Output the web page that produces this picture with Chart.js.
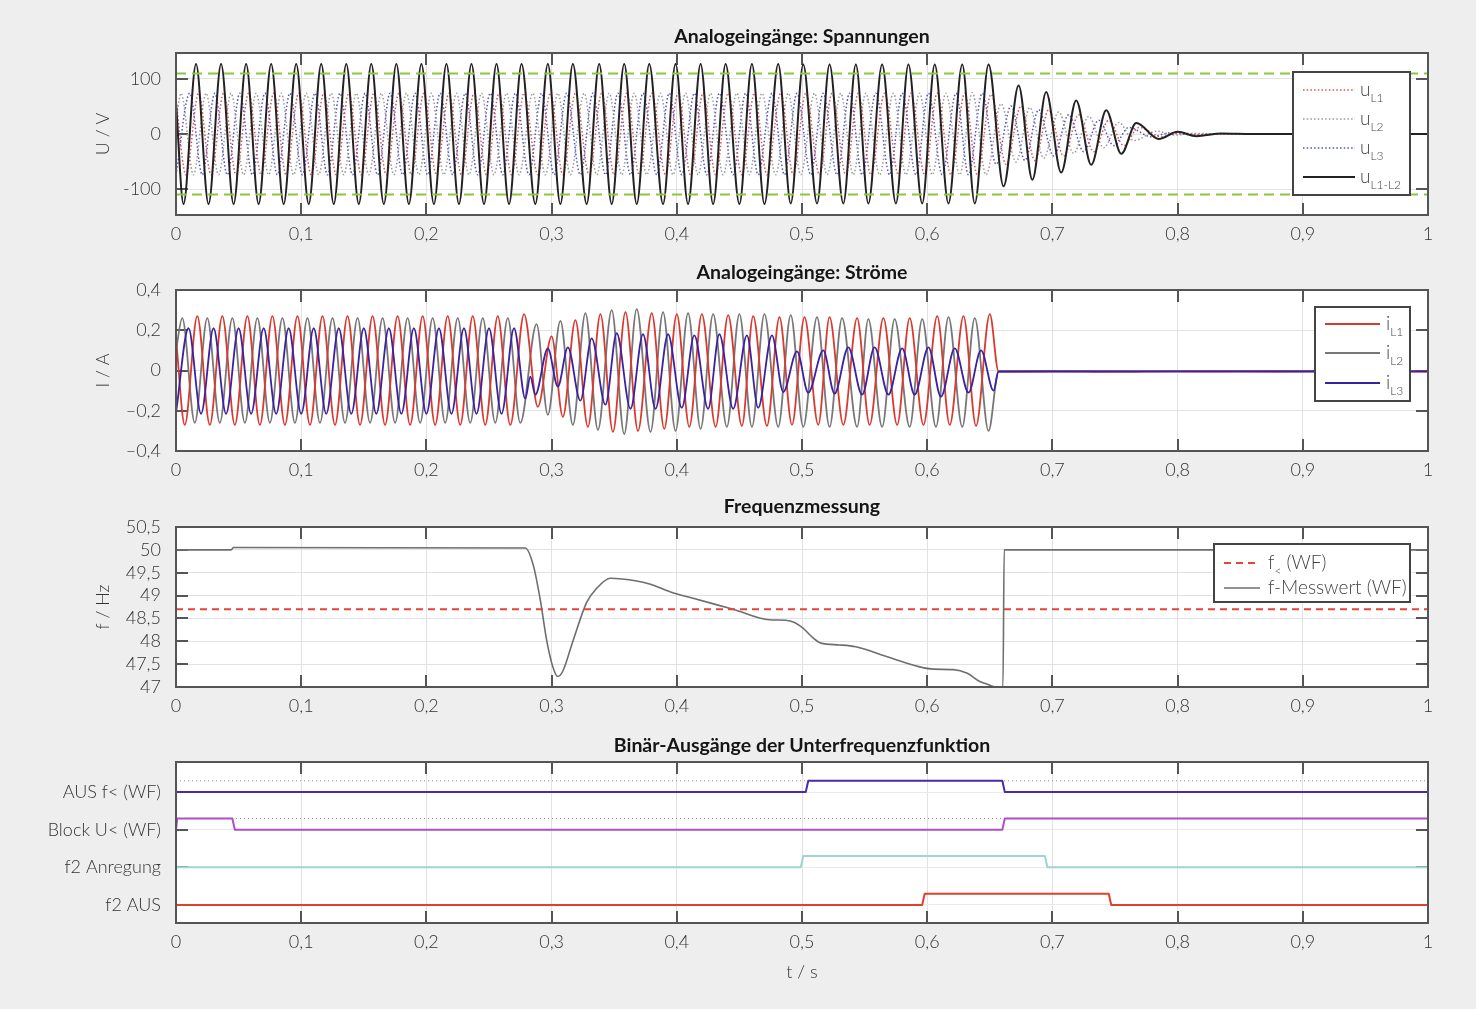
<!DOCTYPE html>
<html><head><meta charset="utf-8">
<script src="https://cdn.jsdelivr.net/npm/chart.js@4.4.1/dist/chart.umd.min.js"></script>
<style>
html,body{margin:0;padding:0;background:#eeeeee;width:1476px;height:1009px;overflow:hidden}
canvas{position:absolute;left:0}
</style></head><body>
<canvas id="c1" width="1476" height="250" style="top:0px"></canvas>
<canvas id="c2" width="1476" height="235" style="top:250px"></canvas>
<canvas id="c3" width="1476" height="235" style="top:485px"></canvas>
<canvas id="c4" width="1476" height="289" style="top:720px"></canvas>
<script>
// ---------- texts ----------
const panelTitles = ['Analogeingänge: Spannungen', 'Analogeingänge: Ströme', 'Frequenzmessung', 'Binär-Ausgänge der Unterfrequenzfunktion'];
const yAxisTitles = ['U / V', 'I / A', 'f / Hz'];
const xAxisTitle = 't / s';

// ---------- ticks ----------
const timeTicks = [0, 0.1, 0.2, 0.3, 0.4, 0.5, 0.6, 0.7, 0.8, 0.9, 1];
const timeTickLabels = ['0', '0,1', '0,2', '0,3', '0,4', '0,5', '0,6', '0,7', '0,8', '0,9', '1'];
const uTicks = [-100, 0, 100];
const uTickLabels = ['-100', '0', '100'];
const iTicks = [-0.4, -0.2, 0, 0.2, 0.4];
const iTickLabels = ['–0,4', '–0,2', '0', '0,2', '0,4'];
const fTicks = [47, 47.5, 48, 48.5, 49, 49.5, 50, 50.5];
const fTickLabels = ['47', '47,5', '48', '48,5', '49', '49,5', '50', '50,5'];
const binTicks = [0, 1, 2, 3];
const binLabels = ['f2 AUS', 'f2 Anregung', 'Block U< (WF)', 'AUS f< (WF)'];

// ---------- voltages (extrema) ----------
const uNames = ['u_{L1}', 'u_{L2}', 'u_{L3}', 'u_{L1-L2}'];
const uLimit = [110, -110];

const uL12Time = [0,
 0.006,0.016,0.026,0.036,0.046,0.056,0.066,0.076,0.086,0.096,
 0.106,0.116,0.126,0.136,0.146,0.156,0.166,0.176,0.186,0.196,
 0.206,0.216,0.226,0.236,0.246,0.256,0.266,0.276,
 0.287,0.297,0.307,0.317,0.328,0.338,0.348,0.358,0.368,0.378,
 0.389,0.399,0.409,0.419,0.429,0.439,0.450,0.460,0.470,0.481,
 0.491,0.501,0.512,0.522,0.533,0.543,0.553,0.564,0.575,0.585,
 0.596,0.606,0.617,0.628,0.638,0.649,
 0.661,0.673,0.684,0.695,0.707,0.719,0.731,0.743,0.755,0.767,0.785,0.800,0.815,0.835,0.860,1.000];
const uL12Value = [57,
 -127,127,-127,127,-127,127,-127,127,
 -127,127,-127,127,-127,127,-127,127,
 -127,127,-127,127,-127,127,-127,127,
 -127,127,-127,127,-127,127,-127,127,
 -127,127,-127,127,-127,127,-127,127,
 -127,127,-127,127,-127,127,-127,127,
 -126,126,-126,126,-126,126,-126,126,
 -126,126,-126,126,-126,126,-126,126,
 -95,88,-83,76,-70,61,-56,43,-36,20,-9,4,-4,1,0,0];

const uL1Time = [0,
 0.008,0.018,0.028,0.038,0.048,0.058,0.068,0.078,0.088,0.098,
 0.108,0.118,0.128,0.138,0.148,0.158,0.168,0.178,0.188,0.198,
 0.208,0.218,0.228,0.238,0.248,0.258,0.268,0.278,
 0.289,0.299,0.309,0.319,0.330,0.340,0.350,0.360,0.370,0.380,
 0.391,0.401,0.411,0.421,0.431,0.441,0.452,0.462,0.472,0.483,
 0.493,0.503,0.514,0.524,0.535,0.545,0.555,0.566,0.577,0.587,
 0.598,0.608,0.619,0.630,0.640,0.651,
 0.663,0.675,0.686,0.697,0.709,0.721,0.733,0.745,0.757,0.769,0.787,0.802,0.817,0.840,1.000];
const uL1Value = [60,
 -74,74,-74,74,-74,74,-74,74, -74,74,-74,74,-74,74,-74,74,
 -74,74,-74,74,-74,74,-74,74, -74,74,-74,74,-74,74,-74,74,
 -74,74,-74,74,-74,74,-74,74, -74,74,-74,74,-74,74,-74,74,
 -74,74,-74,74,-74,74,-74,74, -74,74,-74,74,-74,74,-74,72,
 -55,51,-48,44,-40,35,-32,25,-21,12,-5,2,-1,0,0];

const uL2Time = [0,
 0.004,0.014,0.024,0.034,0.044,0.054,0.064,0.074,0.084,0.094,
 0.104,0.114,0.124,0.134,0.144,0.154,0.164,0.174,0.184,0.194,
 0.204,0.214,0.224,0.234,0.244,0.254,0.264,0.274,
 0.285,0.295,0.305,0.315,0.326,0.336,0.346,0.356,0.366,0.376,
 0.387,0.397,0.407,0.417,0.427,0.437,0.448,0.458,0.468,0.479,
 0.489,0.499,0.510,0.520,0.531,0.541,0.551,0.562,0.573,0.583,
 0.594,0.604,0.615,0.626,0.636,0.647,
 0.659,0.671,0.682,0.693,0.705,0.717,0.729,0.741,0.753,0.765,0.783,0.798,0.813,0.840,1.000];
const uL2Value = [23,
 74,-74,74,-74,74,-74,74,-74, 74,-74,74,-74,74,-74,74,-74,
 74,-74,74,-74,74,-74,74,-74, 74,-74,74,-74,74,-74,74,-74,
 74,-74,74,-74,74,-74,74,-74, 74,-74,74,-74,74,-74,74,-74,
 74,-74,74,-74,74,-74,74,-74, 74,-74,74,-74,74,-74,75,-74,
 55,-51,48,-44,40,-35,32,-25,21,-12,5,-2,1,0,0];

const uL3Time = [
 0.000,0.011,0.021,0.031,0.041,0.051,0.061,0.071,0.081,0.091,
 0.101,0.111,0.121,0.131,0.141,0.151,0.161,0.171,0.181,0.191,
 0.201,0.211,0.221,0.231,0.241,0.251,0.261,0.271,
 0.282,0.292,0.302,0.312,0.323,0.333,0.343,0.353,0.363,0.373,
 0.384,0.394,0.404,0.414,0.424,0.434,0.445,0.455,0.465,0.476,
 0.486,0.496,0.507,0.517,0.528,0.538,0.548,0.559,0.570,0.580,
 0.591,0.601,0.612,0.623,0.633,0.644,
 0.655,0.667,0.678,0.689,0.701,0.713,0.725,0.737,0.749,0.761,0.779,0.794,0.809,0.840,1.000];
const uL3Value = [
 -74,74,-74,74,-74,74,-74,74, -74,74,-74,74,-74,74,-74,74,
 -74,74,-74,74,-74,74,-74,74, -74,74,-74,74,-74,74,-74,74,
 -74,74,-74,74,-74,74,-74,74, -74,74,-74,74,-74,74,-74,74,
 -74,74,-74,74,-74,74,-74,74, -74,74,-74,74,-74,74,-74,74,
 -55,51,-48,44,-40,35,-32,25,-21,12,-5,2,-1,0,0];

// ---------- currents ----------
const iNames = ['i_{L1}', 'i_{L2}', 'i_{L3}'];
const iL1Time = [0,
 0.007,0.017,0.027,0.037,0.047,0.057,0.067,0.077,0.087,0.097,
 0.107,0.117,0.127,0.137,0.147,0.157,0.167,0.177,0.187,0.197,
 0.207,0.217,0.227,0.237,0.247,0.257,0.267,0.278,
 0.289,0.300,0.309,0.319,0.329,0.339,0.349,0.359,0.369,0.380,
 0.390,0.400,0.410,0.420,0.431,0.441,0.452,0.461,0.472,0.482,
 0.492,0.502,0.513,0.522,0.533,0.544,0.554,0.565,0.576,0.586,
 0.597,0.608,0.618,0.629,0.639,0.650,
 0.657,0.700,0.750,0.800,0.850,0.900,1.000];
const iL1Value = [0.16,
 -0.27,0.27,-0.27,0.27,-0.27,0.27,-0.27,0.27,-0.27,0.27,
 -0.27,0.27,-0.27,0.27,-0.27,0.27,-0.27,0.27,-0.27,0.27,
 -0.27,0.27,-0.27,0.27,-0.27,0.27,-0.27,0.28,
 -0.18,0.17,-0.23,0.25,-0.28,0.28,-0.305,0.29,-0.30,0.285,
 -0.29,0.28,-0.28,0.28,-0.28,0.275,-0.275,0.27,-0.275,0.265,
 -0.27,0.265,-0.27,0.265,-0.27,0.26,-0.27,0.26,-0.27,0.26,
 -0.27,0.27,-0.27,0.27,-0.275,0.28,
 -0.006,-0.004,-0.007,-0.004,-0.006,-0.004,-0.005];

const iL2Time = [0,
 0.005,0.015,0.025,0.035,0.045,0.055,0.065,0.075,0.085,0.095,
 0.105,0.115,0.125,0.135,0.145,0.155,0.165,0.175,0.185,0.195,
 0.205,0.215,0.225,0.235,0.245,0.255,0.265,0.275,
 0.288,0.297,0.307,0.317,0.327,0.337,0.348,0.358,0.368,0.379,
 0.389,0.399,0.409,0.419,0.429,0.440,0.450,0.460,0.470,0.481,
 0.491,0.501,0.512,0.522,0.532,0.544,0.553,0.564,0.574,0.586,
 0.596,0.607,0.617,0.628,0.638,0.649,
 0.657,0.700,0.800,0.900,1.000];
const iL2Value = [0.1,
 0.26,-0.26,0.26,-0.26,0.26,-0.26,0.26,-0.26,0.26,-0.26,
 0.26,-0.26,0.26,-0.26,0.26,-0.26,0.26,-0.26,0.26,-0.26,
 0.26,-0.26,0.26,-0.26,0.26,-0.26,0.26,-0.26,
 0.23,-0.22,0.247,-0.27,0.285,-0.295,0.30,-0.316,0.305,-0.305,
 0.29,-0.30,0.285,-0.29,0.28,-0.28,0.28,-0.28,0.28,-0.28,
 0.275,-0.28,0.265,-0.28,0.26,-0.28,0.255,-0.28,0.255,-0.28,
 0.255,-0.28,0.265,-0.28,0.26,-0.30,
 -0.004,-0.003,-0.004,-0.003,-0.004];

const iL3Time = [
 0.000,0.010,0.020,0.030,0.040,0.050,0.060,0.070,0.080,0.090,
 0.100,0.110,0.120,0.130,0.140,0.150,0.160,0.170,0.180,0.190,
 0.200,0.210,0.220,0.230,0.240,0.250,0.260,0.270,
 0.279,0.283,0.287,0.297,0.305,0.313,0.323,0.332,0.343,0.352,
 0.363,0.373,0.383,0.393,0.404,0.414,0.425,0.434,0.445,0.456,
 0.465,0.476,0.485,0.496,0.505,0.517,0.526,0.537,0.548,0.558,
 0.569,0.580,0.590,0.601,0.611,0.622,0.633,0.643,0.653,
 0.657,0.700,0.800,0.900,1.000];
const iL3Value = [
 -0.21,0.21,-0.215,0.21,-0.215,0.21,-0.215,0.21,-0.215,0.21,
 -0.215,0.21,-0.215,0.21,-0.215,0.21,-0.215,0.21,-0.215,0.21,
 -0.215,0.21,-0.215,0.21,-0.215,0.21,-0.215,0.21,
 -0.14,-0.03,-0.12,0.11,-0.08,0.115,-0.15,0.16,-0.17,0.185,
 -0.19,0.18,-0.19,0.18,-0.185,0.175,-0.19,0.18,-0.19,0.175,
 -0.185,0.175,-0.107,0.095,-0.11,0.10,-0.115,0.115,-0.12,0.115,
 -0.12,0.11,-0.12,0.115,-0.13,0.11,-0.11,0.10,-0.10,
 -0.005,-0.005,-0.004,-0.005,-0.004];

// ---------- frequency ----------
const fNames = ['f_{<} (WF)', 'f-Messwert (WF)'];
const fLimit = 48.7;
const fTime = [0, 0.044, 0.046, 0.279, 0.2855, 0.291, 0.296, 0.301, 0.305, 0.309,
 0.317, 0.328, 0.336, 0.347, 0.368, 0.379, 0.395, 0.413, 0.445, 0.474, 0.487, 0.494,
 0.501, 0.509, 0.515, 0.530, 0.543, 0.568, 0.594, 0.605, 0.621, 0.632, 0.642, 0.647,
 0.655, 0.6605, 0.6615, 1.0];
const fValue = [50.0, 50.0, 50.05, 50.04, 49.65, 48.9, 48.03, 47.44, 47.23, 47.35,
 48.0, 48.85, 49.16, 49.38, 49.32, 49.25, 49.08, 48.94, 48.7, 48.47, 48.46, 48.41,
 48.28, 48.07, 47.96, 47.92, 47.88, 47.66, 47.44, 47.39, 47.38, 47.3, 47.12, 47.07,
 47.0, 47.0, 50.0, 50.0];

// ---------- binary outputs (time, state) ----------
const ausTime = [0, 0.503, 0.505, 0.660, 0.662, 1];
const ausState = [0, 0, 1, 1, 0, 0];
const blockTime = [0, 0.001, 0.045, 0.047, 0.660, 0.662, 1];
const blockState = [0, 1, 1, 0, 0, 1, 1];
const anrTime = [0, 0.499, 0.501, 0.694, 0.696, 1];
const anrState = [0, 0, 1, 1, 0, 0];
const f2ausTime = [0, 0.596, 0.598, 0.745, 0.747, 1];
const f2ausState = [0, 0, 1, 1, 0, 0];

// ---------- helpers ----------
const FONT = "Lato, 'Open Sans', sans-serif";
Chart.defaults.font.family = FONT;
Chart.defaults.animation = false;
const pts = (ts, vs) => ts.map((t, i) => ({x: t, y: vs[i]}));
const hline = v => [{x: 0, y: v}, {x: 1, y: v}];
const LANE_H = 0.3;
const lane = (ts, st, base) => ts.map((t, i) => ({x: t, y: base + LANE_H * st[i]}));
const TXT = '#333333';

function drawRich(ctx, str, x, y, color) {
  const parts = str.split(/(_\{[^}]*\})/);
  let cx = x;
  ctx.fillStyle = color;
  ctx.textBaseline = 'middle';
  ctx.textAlign = 'left';
  for (const p of parts) {
    if (!p) continue;
    const m = p.match(/^_\{([^}]*)\}$/);
    if (m) { ctx.font = '300 12px ' + FONT; ctx.fillText(m[1], cx, y + 8); cx += ctx.measureText(m[1]).width; }
    else { ctx.font = '300 19px ' + FONT; ctx.fillText(p, cx, y); cx += ctx.measureText(p).width; }
  }
}

const decor = {
  id: 'decor',
  beforeDraw(chart) {
    const {ctx, chartArea: a} = chart;
    ctx.save(); ctx.fillStyle = '#ffffff';
    ctx.fillRect(a.left, a.top, a.right - a.left, a.bottom - a.top); ctx.restore();
  },
  beforeDatasetsDraw(chart) {
    const {ctx, chartArea: a, scales} = chart;
    const L = 12;
    ctx.save(); ctx.strokeStyle = '#555'; ctx.lineWidth = 2;
    ctx.beginPath();
    scales.x.ticks.forEach(t => {
      const x = Math.round(scales.x.getPixelForValue(t.value));
      ctx.moveTo(x, a.top); ctx.lineTo(x, a.top + L);
      ctx.moveTo(x, a.bottom); ctx.lineTo(x, a.bottom - L);
    });
    scales.y.ticks.forEach(t => {
      const y = Math.round(scales.y.getPixelForValue(t.value));
      ctx.moveTo(a.left, y); ctx.lineTo(a.left + L, y);
      ctx.moveTo(a.right, y); ctx.lineTo(a.right - L, y);
    });
    ctx.stroke(); ctx.restore();
  },
  afterDatasetsDraw(chart) {
    const {ctx, chartArea: a} = chart;
    ctx.save(); ctx.strokeStyle = '#555'; ctx.lineWidth = 2;
    ctx.strokeRect(a.left, a.top, a.right - a.left, a.bottom - a.top); ctx.restore();
  },
  afterDraw(chart, args, o) {
    const {ctx, chartArea: a} = chart;
    ctx.save();
    if (o.title) {
      ctx.font = 'bold 19.5px ' + FONT; ctx.fillStyle = '#151515';
      ctx.textAlign = 'center'; ctx.textBaseline = 'middle';
      ctx.fillText(o.title, (a.left + a.right) / 2, a.top - o.titleGap);
    }
    if (o.yTitle) {
      ctx.save();
      ctx.translate(103, (a.top + a.bottom) / 2); ctx.rotate(-Math.PI / 2);
      ctx.font = '300 18px ' + FONT; ctx.fillStyle = TXT;
      ctx.textAlign = 'center'; ctx.textBaseline = 'middle';
      ctx.fillText(o.yTitle, 0, 0);
      ctx.restore();
    }
    if (o.xTitle) {
      ctx.font = '300 18px ' + FONT; ctx.fillStyle = TXT;
      ctx.textAlign = 'center'; ctx.textBaseline = 'middle';
      ctx.fillText(o.xTitle, (a.left + a.right) / 2, o.xTitleY);
    }
    if (o.legend) {
      const lg = o.legend, b = lg.box;
      ctx.fillStyle = '#fff'; ctx.fillRect(b[0], b[1], b[2] - b[0], b[3] - b[1]);
      ctx.strokeStyle = '#444'; ctx.lineWidth = 2; ctx.strokeRect(b[0], b[1], b[2] - b[0], b[3] - b[1]);
      chart.data.datasets.forEach(ds => {
        if (ds.legendRow === undefined) return;
        const y = lg.rows[ds.legendRow];
        ctx.save();
        ctx.strokeStyle = ds.borderColor; ctx.lineWidth = ds.borderWidth;
        ctx.setLineDash(ds.borderDash || []);
        ctx.beginPath(); ctx.moveTo(lg.line[0], y); ctx.lineTo(lg.line[1], y); ctx.stroke();
        ctx.restore();
        drawRich(ctx, ds.label, lg.textX, y, '#444');
      });
    }
    ctx.restore();
  }
};

function scalesFor(ymin, ymax, yVals, yLabels, xAxisH, yGridColor) {
  const tickFont = {size: 18, weight: '300'};
  return {
    x: {
      type: 'linear', min: 0, max: 1,
      afterBuildTicks: s => { s.ticks = timeTicks.map(v => ({value: v})); },
      afterFit: s => { s.height = xAxisH; },
      ticks: { callback: v => timeTickLabels[timeTicks.indexOf(v)], padding: 8, maxRotation: 0, autoSkip: false, color: TXT, font: tickFont },
      grid: { color: '#e2e2e2', lineWidth: 1, drawTicks: false },
      border: { display: false }
    },
    y: {
      type: 'linear', min: ymin, max: ymax,
      afterBuildTicks: s => { s.ticks = yVals.map(v => ({value: v})); },
      afterFit: s => { s.width = 176; },
      ticks: { callback: v => yLabels[yVals.indexOf(v)], padding: 15, autoSkip: false, color: TXT, font: tickFont },
      grid: { color: yGridColor || '#e2e2e2', lineWidth: 1, drawTicks: false },
      border: { display: false }
    }
  };
}

function makeChart(id, datasets, scales, padTop, decorOpts) {
  return new Chart(document.getElementById(id), {
    type: 'line',
    data: { datasets },
    options: {
      responsive: false, animation: false, events: [],
      layout: { padding: { left: 0, right: 48, top: padTop, bottom: 0 } },
      elements: { point: { radius: 0 }, line: { borderJoinStyle: 'round' } },
      plugins: { legend: { display: false }, tooltip: { enabled: false }, decor: decorOpts },
      scales
    },
    plugins: [decor]
  });
}

const smooth = { cubicInterpolationMode: 'monotone', fill: false };

// ---------- panel 1: voltages ----------
makeChart('c1', [
  { data: hline(uLimit[0]), borderColor: '#8cc63e', borderWidth: 2, borderDash: [10, 6], order: 0 },
  { data: hline(uLimit[1]), borderColor: '#8cc63e', borderWidth: 2, borderDash: [10, 6], order: 0 },
  { label: uNames[3], data: pts(uL12Time, uL12Value), borderColor: '#222222', borderWidth: 2, order: 1, legendRow: 3, ...smooth },
  { label: uNames[0], data: pts(uL1Time, uL1Value), borderColor: '#e05050', borderWidth: 1.5, borderDash: [1.5, 2.2], order: 2, legendRow: 0, ...smooth },
  { label: uNames[1], data: pts(uL2Time, uL2Value), borderColor: '#999999', borderWidth: 1.5, borderDash: [1.5, 2.2], order: 3, legendRow: 1, ...smooth },
  { label: uNames[2], data: pts(uL3Time, uL3Value), borderColor: '#5050d0', borderWidth: 1.5, borderDash: [1.5, 2.2], order: 4, legendRow: 2, ...smooth }
], scalesFor(-147, 147, uTicks, uTickLabels, 35), 53,
{ title: panelTitles[0], titleGap: 16, yTitle: yAxisTitles[0],
  legend: { box: [1293, 72, 1410, 195], rows: [90, 119, 148, 177], line: [1303, 1355], textX: 1360 } });

// ---------- panel 2: currents ----------
makeChart('c2', [
  { label: iNames[2], data: pts(iL3Time, iL3Value), borderColor: '#3a22a0', borderWidth: 1.8, order: 0, legendRow: 2, ...smooth },
  { label: iNames[0], data: pts(iL1Time, iL1Value), borderColor: '#d93a30', borderWidth: 1.8, order: 1, legendRow: 0, ...smooth },
  { label: iNames[1], data: pts(iL2Time, iL2Value), borderColor: '#777777', borderWidth: 1.8, order: 2, legendRow: 1, ...smooth }
], scalesFor(-0.4, 0.4, iTicks, iTickLabels, 34), 40,
{ title: panelTitles[1], titleGap: 17, yTitle: yAxisTitles[1],
  legend: { box: [1315, 57, 1410, 151], rows: [74, 103, 133], line: [1325, 1380], textX: 1386 } });

// ---------- panel 3: frequency ----------
makeChart('c3', [
  { label: fNames[0], data: hline(fLimit), borderColor: '#e0463a', borderWidth: 2, borderDash: [7, 5], order: 0, legendRow: 0 },
  { label: fNames[1], data: pts(fTime, fValue), borderColor: '#6e6e6e', borderWidth: 1.6, order: 1, legendRow: 1, ...smooth }
], scalesFor(47, 50.5, fTicks, fTickLabels, 33), 42,
{ title: panelTitles[2], titleGap: 20, yTitle: yAxisTitles[2],
  legend: { box: [1214, 59, 1410, 117], rows: [78, 103], line: [1224, 1260], textX: 1268 } });

// ---------- panel 4: binary outputs ----------
makeChart('c4', [
  { data: hline(3 + LANE_H), borderColor: '#8a8a8a', borderWidth: 1, borderDash: [1, 3], order: 5 },
  { data: hline(2 + LANE_H), borderColor: '#8a8a8a', borderWidth: 1, borderDash: [1, 3], order: 5 },
  { data: lane(ausTime, ausState, 3), borderColor: '#4a2aa8', borderWidth: 2, order: 0 },
  { data: lane(blockTime, blockState, 2), borderColor: '#b04fc4', borderWidth: 2, order: 1 },
  { data: lane(anrTime, anrState, 1), borderColor: '#9fd3d4', borderWidth: 2, order: 2 },
  { data: lane(f2ausTime, f2ausState, 0), borderColor: '#e0412f', borderWidth: 2, order: 3 }
], scalesFor(-0.48, 3.8, binTicks, binLabels, 86, '#eaeaea'), 42,
{ title: panelTitles[3], titleGap: 16, xTitle: xAxisTitle, xTitleY: 252 });
</script>
</body></html>
